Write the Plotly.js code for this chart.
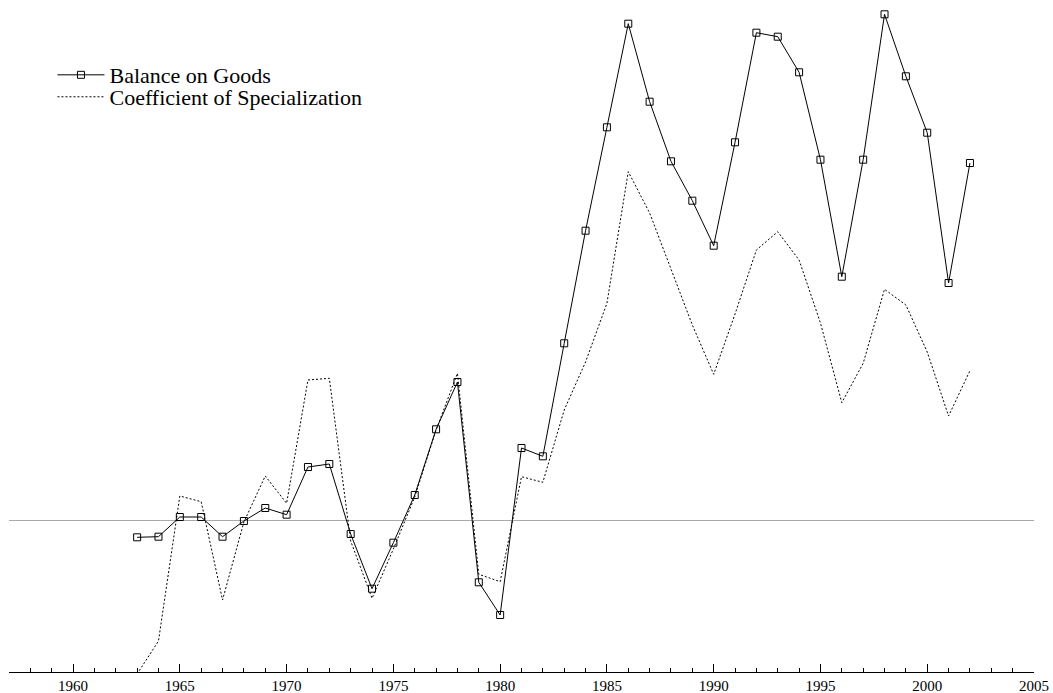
<!DOCTYPE html>
<html>
<head>
<meta charset="utf-8">
<script src="https://cdn.plot.ly/plotly-3.0.1.min.js"></script>
<style>html,body{margin:0;padding:0;background:#fff;}#chart{width:1053px;height:693px;}</style>
</head>
<body>
<div id="chart"></div>
<script>
var years = [1963,1964,1965,1966,1967,1968,1969,1970,1971,1972,1973,1974,1975,1976,1977,1978,1979,1980,1981,1982,1983,1984,1985,1986,1987,1988,1989,1990,1991,1992,1993,1994,1995,1996,1997,1998,1999,2000,2001,2002];
var balanceOnGoods = [-1.66,-1.60,0.37,0.37,-1.60,-0.03,1.27,0.60,5.37,5.67,-1.33,-6.80,-2.20,2.57,9.14,13.87,-6.16,-9.43,7.27,6.44,17.74,29.0,39.34,49.7,41.9,35.94,32.0,27.5,37.84,48.8,48.4,44.84,36.1,24.4,36.1,50.64,44.44,38.8,23.77,35.77];
var coefSpecialization = [-15.33,-12.03,2.47,1.9,-7.93,-0.13,4.47,1.74,14.07,14.24,-2.03,-7.76,-2.83,2.37,9.07,14.74,-5.36,-6.1,4.4,3.84,11.07,15.87,21.74,34.9,30.77,25.07,19.57,14.64,20.67,27.07,28.9,26.07,19.77,11.8,15.74,23.14,21.57,16.87,10.47,15.0];
var tickYears = [1960,1965,1970,1975,1980,1985,1990,1995,2000,2005];
var seriesNames = ["Balance on Goods","Coefficient of Specialization"];

var traces = [
  {
    x: years, y: balanceOnGoods, name: seriesNames[0], type: "scatter", mode: "lines+markers",
    line: {color: "#000", width: 1},
    marker: {symbol: "square-open", size: 7, color: "#000", line: {width: 1, color: "#000"}},
    legend: "legend"
  },
  {
    x: years, y: coefSpecialization, name: seriesNames[1], type: "scatter", mode: "lines",
    line: {color: "#000", width: 1, dash: "2px,2px"},
    legend: "legend2"
  }
];

var legendFont = {family: "Liberation Serif, serif", size: 22, color: "#000"};
var layout = {
  width: 1053, height: 693,
  margin: {l: 9, r: 19, t: 5, b: 21},
  paper_bgcolor: "#fff", plot_bgcolor: "#fff",
  font: {family: "Liberation Serif, Times New Roman, serif", color: "#000"},
  showlegend: true,
  legend: {
    x: 0.0424, y: 0.9265, xanchor: "left", yanchor: "top",
    font: legendFont, bgcolor: "rgba(0,0,0,0)", borderwidth: 0, itemwidth: 47
  },
  legend2: {
    x: 0.0424, y: 0.8936, xanchor: "left", yanchor: "top",
    font: legendFont, bgcolor: "rgba(0,0,0,0)", borderwidth: 0, itemwidth: 47
  },
  xaxis: {
    range: [1957, 2005], showgrid: false, zeroline: false,
    showline: true, linecolor: "#000", linewidth: 1,
    ticks: "inside", ticklen: 8, tickwidth: 1, tickcolor: "#000",
    tickmode: "array", tickvals: tickYears, ticktext: tickYears.map(String),
    tickfont: {family: "Liberation Serif, serif", size: 15, color: "#000"},
    minor: {dtick: 1, tick0: 1957, ticks: "inside", ticklen: 4, tickwidth: 1, tickcolor: "#000", showgrid: false}
  },
  yaxis: {
    range: [-15.13, 51.57], showgrid: false, showline: false, showticklabels: false, ticks: "",
    zeroline: true, zerolinecolor: "#aaaaaa", zerolinewidth: 1.2
  }
};

Plotly.newPlot("chart", traces, layout, {displayModeBar: false, staticPlot: true});
</script>
</body>
</html>
